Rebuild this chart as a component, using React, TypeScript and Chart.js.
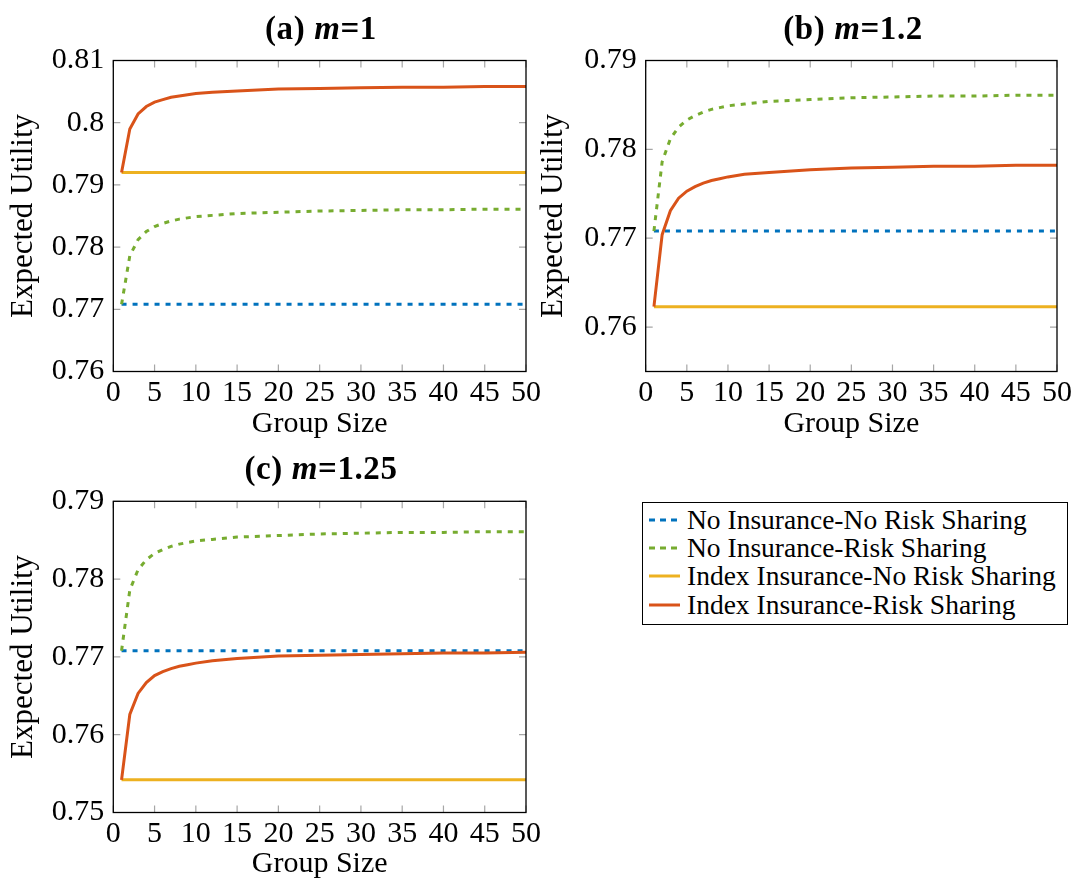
import React, { useEffect, useRef } from 'react';
import { Chart, registerables } from 'chart.js';

Chart.register(...registerables);

// ---------------- data ----------------
const GROUP_SIZE = [1, 2, 3, 4, 5, 6, 7, 8, 9, 10, 12, 15, 20, 25, 30, 35, 40, 45, 50];

// No insurance (independent of m)
const NO_INS_NO_RS = [0.7708, 0.7708, 0.7708, 0.7708, 0.7708, 0.7708, 0.7708, 0.7708, 0.7708, 0.7708, 0.7708, 0.7708, 0.7708, 0.7708, 0.7708, 0.7708, 0.7708, 0.7708, 0.7708];
const NO_INS_RS = [0.7708, 0.7786, 0.7812, 0.7825, 0.7833, 0.7838, 0.7842, 0.7845, 0.7847, 0.7849, 0.7851, 0.7854, 0.7856, 0.7858, 0.7859, 0.7860, 0.7860, 0.7861, 0.7861];

// (a) m = 1
const IDX_NO_RS_A = [0.7920, 0.7920, 0.7920, 0.7920, 0.7920, 0.7920, 0.7920, 0.7920, 0.7920, 0.7920, 0.7920, 0.7920, 0.7920, 0.7920, 0.7920, 0.7920, 0.7920, 0.7920, 0.7920];
const IDX_RS_A = [0.7920, 0.7990, 0.8014, 0.8026, 0.8033, 0.8037, 0.8041, 0.8043, 0.8045, 0.8047, 0.8049, 0.8051, 0.8054, 0.8055, 0.8056, 0.8057, 0.8057, 0.8058, 0.8058];

// (b) m = 1.2
const IDX_NO_RS_B = [0.7623, 0.7623, 0.7623, 0.7623, 0.7623, 0.7623, 0.7623, 0.7623, 0.7623, 0.7623, 0.7623, 0.7623, 0.7623, 0.7623, 0.7623, 0.7623, 0.7623, 0.7623, 0.7623];
const IDX_RS_B = [0.7623, 0.7704, 0.7731, 0.7745, 0.7753, 0.7758, 0.7762, 0.7765, 0.7767, 0.7769, 0.7772, 0.7774, 0.7777, 0.7779, 0.7780, 0.7781, 0.7781, 0.7782, 0.7782];

// (c) m = 1.25
const IDX_NO_RS_C = [0.7542, 0.7542, 0.7542, 0.7542, 0.7542, 0.7542, 0.7542, 0.7542, 0.7542, 0.7542, 0.7542, 0.7542, 0.7542, 0.7542, 0.7542, 0.7542, 0.7542, 0.7542, 0.7542];
const IDX_RS_C = [0.7542, 0.7626, 0.7653, 0.7667, 0.7676, 0.7681, 0.7685, 0.7688, 0.7690, 0.7692, 0.7695, 0.7698, 0.7701, 0.7702, 0.7703, 0.7704, 0.7705, 0.7705, 0.7706];

const X_TICKS = [0, 5, 10, 15, 20, 25, 30, 35, 40, 45, 50];
const Y_TICKS_A = [0.76, 0.77, 0.78, 0.79, 0.80, 0.81];
const Y_TICKS_B = [0.76, 0.77, 0.78, 0.79];
const Y_TICKS_C = [0.75, 0.76, 0.77, 0.78, 0.79];

const SERIES_NAMES = [
  'No Insurance-No Risk Sharing',
  'No Insurance-Risk Sharing',
  'Index Insurance-No Risk Sharing',
  'Index Insurance-Risk Sharing',
];
const SERIES_COLORS = ['#0072BD', '#77AC30', '#EDB120', '#D95319'];
const SERIES_DASHED = [true, true, false, false];

const FONT = '"Liberation Serif", "Times New Roman", serif';

Chart.defaults.font.family = FONT;
Chart.defaults.color = '#000';

// ---------------- plugin: pgfplots-like frame & inward ticks ----------------
const frameTicksPlugin = {
  id: 'frameTicks',
  beforeDatasetsDraw(chart: any) {
    const { ctx, chartArea: a, scales } = chart;
    ctx.save();
    ctx.strokeStyle = '#a6a6a6';
    ctx.lineWidth = 1.2;
    ctx.beginPath();
    for (const t of scales.x.ticks) {
      const px = scales.x.getPixelForValue(t.value);
      ctx.moveTo(px, a.bottom);
      ctx.lineTo(px, a.bottom - 7);
      ctx.moveTo(px, a.top);
      ctx.lineTo(px, a.top + 7);
    }
    for (const t of scales.y.ticks) {
      const py = scales.y.getPixelForValue(t.value);
      ctx.moveTo(a.left, py);
      ctx.lineTo(a.left + 7, py);
      ctx.moveTo(a.right, py);
      ctx.lineTo(a.right - 7, py);
    }
    ctx.stroke();
    ctx.restore();
  },
  afterDatasetsDraw(chart: any) {
    const { ctx, chartArea: a } = chart;
    ctx.save();
    ctx.strokeStyle = '#000';
    ctx.lineWidth = 1.3;
    ctx.strokeRect(a.left, a.top, a.right - a.left, a.bottom - a.top);
    ctx.restore();
  },
};

const fmt = (v: any) => String(Number(Number(v).toFixed(2)));

type PanelProps = {
  left: number;
  top: number;
  width: number;
  height: number;
  padTop: number;
  padRight: number;
  yWidth: number;
  xHeight: number;
  xTitlePad: number;
  yMin: number;
  yMax: number;
  yTicks: number[];
  idxNoRS: number[];
  idxRS: number[];
};

function Panel(p: PanelProps) {
  const ref = useRef<HTMLCanvasElement | null>(null);
  useEffect(() => {
    if (!ref.current) return;
    const seriesValues = [NO_INS_NO_RS, NO_INS_RS, p.idxNoRS, p.idxRS];
    const datasets = seriesValues.map((vals, i) => ({
      label: SERIES_NAMES[i],
      data: GROUP_SIZE.map((x, j) => ({ x, y: vals[j] })),
      borderColor: SERIES_COLORS[i],
      backgroundColor: SERIES_COLORS[i],
      borderWidth: 3,
      borderDash: SERIES_DASHED[i] ? [5, 6] : [],
      borderCapStyle: 'butt' as const,
      pointRadius: 0,
      tension: 0,
      fill: false,
      order: 3 - i,
    }));
    const chart = new Chart(ref.current, {
      type: 'line',
      data: { datasets },
      options: {
        animation: false,
        responsive: false,
        maintainAspectRatio: false,
        devicePixelRatio: 1,
        layout: { padding: { top: p.padTop, right: p.padRight, left: 0, bottom: 0 } },
        plugins: { legend: { display: false }, tooltip: { enabled: false } },
        scales: {
          x: {
            type: 'linear',
            min: 0,
            max: 50,
            grid: { display: false, drawTicks: false },
            border: { display: false },
            afterBuildTicks: (s: any) => {
              s.ticks = X_TICKS.map((v) => ({ value: v }));
            },
            afterFit: (s: any) => {
              s.height = p.xHeight;
            },
            ticks: {
              autoSkip: false,
              maxRotation: 0,
              minRotation: 0,
              padding: 4,
              color: '#000',
              font: { family: FONT, size: 30 },
              callback: (v: any) => fmt(v),
            },
            title: {
              display: true,
              text: 'Group Size',
              color: '#000',
              font: { family: FONT, size: 30, lineHeight: 1.2 },
              padding: { top: 0, bottom: p.xTitlePad },
            },
          },
          y: {
            type: 'linear',
            min: p.yMin,
            max: p.yMax,
            grid: { display: false, drawTicks: false },
            border: { display: false },
            afterBuildTicks: (s: any) => {
              s.ticks = p.yTicks.map((v) => ({ value: v }));
            },
            afterFit: (s: any) => {
              s.width = p.yWidth;
            },
            ticks: {
              autoSkip: false,
              padding: 9,
              color: '#000',
              font: { family: FONT, size: 30 },
              callback: (v: any) => fmt(v),
            },
            title: {
              display: true,
              text: 'Expected Utility',
              color: '#000',
              font: { family: FONT, size: 31, lineHeight: 1.2 },
              padding: { top: 5, bottom: 0 },
            },
          },
        },
      },
      plugins: [frameTicksPlugin],
    } as any);
    return () => {
      chart.destroy();
    };
  }, []);
  return (
    <canvas
      ref={ref}
      width={p.width}
      height={p.height}
      style={{ position: 'absolute', left: p.left, top: p.top, width: p.width, height: p.height }}
    />
  );
}

function Title({ cx, top, label, m }: { cx: number; top: number; label: string; m: string }) {
  return (
    <div
      style={{
        position: 'absolute',
        left: cx - 150,
        top,
        width: 300,
        textAlign: 'center',
        fontFamily: FONT,
        fontSize: 33,
        lineHeight: '33px',
        fontWeight: 'bold',
        letterSpacing: '0.6px',
        whiteSpace: 'nowrap',
        color: '#000',
      }}
    >
      {label} <i>m</i>={m}
    </div>
  );
}

function Legend() {
  const rowCenters = [16.7, 45, 73.4, 101.7];
  return (
    <div
      style={{
        position: 'absolute',
        left: 642,
        top: 502,
        width: 426,
        height: 123,
        boxSizing: 'border-box',
        border: '1px solid #000',
        background: '#fff',
      }}
    >
      {SERIES_NAMES.map((name, i) => (
        <div
          key={name}
          style={{
            position: 'absolute',
            left: 0,
            top: rowCenters[i] - 14,
            height: 28,
            display: 'flex',
            alignItems: 'center',
          }}
        >
          <svg width={31} height={6} style={{ marginLeft: 6, display: 'block' }}>
            <line
              x1={0}
              y1={3}
              x2={31}
              y2={3}
              stroke={SERIES_COLORS[i]}
              strokeWidth={3}
              strokeDasharray={SERIES_DASHED[i] ? '6 5' : undefined}
            />
          </svg>
          <span
            style={{
              marginLeft: 7,
              fontFamily: FONT,
              fontSize: 27.5,
              lineHeight: '28px',
              whiteSpace: 'nowrap',
              color: '#000',
            }}
          >
            {name}
          </span>
        </div>
      ))}
    </div>
  );
}

export default function App() {
  return (
    <div
      style={{
        position: 'fixed',
        left: 0,
        top: 0,
        width: 1076,
        height: 884,
        background: '#fff',
        overflow: 'hidden',
      }}
    >
      <Panel
        left={0}
        top={0}
        width={545}
        height={445}
        padTop={60.5}
        padRight={16.3}
        yWidth={113.3}
        xHeight={73.5}
        xTitlePad={3}
        yMin={0.76}
        yMax={0.81}
        yTicks={Y_TICKS_A}
        idxNoRS={IDX_NO_RS_A}
        idxRS={IDX_RS_A}
      />
      <Panel
        left={530}
        top={0}
        width={546}
        height={445}
        padTop={60.5}
        padRight={16}
        yWidth={115.7}
        xHeight={73.5}
        xTitlePad={3}
        yMin={0.755}
        yMax={0.79}
        yTicks={Y_TICKS_B}
        idxNoRS={IDX_NO_RS_B}
        idxRS={IDX_RS_B}
      />
      <Panel
        left={0}
        top={440}
        width={545}
        height={444}
        padTop={61.3}
        padRight={16.3}
        yWidth={113.3}
        xHeight={71.5}
        xTitlePad={2}
        yMin={0.75}
        yMax={0.79}
        yTicks={Y_TICKS_C}
        idxNoRS={IDX_NO_RS_C}
        idxRS={IDX_RS_C}
      />
      <Title cx={321} top={12} label="(a)" m="1" />
      <Title cx={853} top={12} label="(b)" m="1.2" />
      <Title cx={321} top={452} label="(c)" m="1.25" />
      <Legend />
    </div>
  );
}
